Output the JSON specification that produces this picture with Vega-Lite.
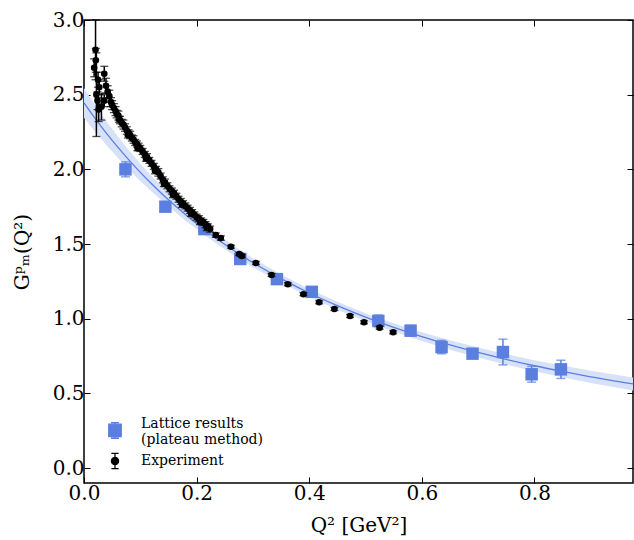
{
  "$schema": "https://vega.github.io/schema/vega-lite/v6.json",
  "width": 549,
  "height": 463,
  "autosize": "none",
  "padding": {"left": 84, "top": 20, "right": 1, "bottom": 57},
  "background": "white",
  "params": [
    {"name": "pathE", "value": "M-0.45,0A0.45,0.45 0 1,0 0.45,0A0.45,0.45 0 1,0 -0.45,0Z M0,-0.95L0,0.95 M-0.45,-0.95L0.45,-0.95 M-0.45,0.95L0.45,0.95"},
    {"name": "pathL", "value": "M-0.78,0.02L0.78,0.02L0.78,1.58L-0.78,1.58Z M-0.5,-0.18L0.5,-0.18 M-0.5,1.78L0.5,1.78 M0,-0.18L0,1.78"}
  ],
  "config": {
    "view": {"stroke": "#000", "strokeWidth": 1.5},
    "font": "DejaVu Serif",
    "axis": {
      "grid": false, "domain": false, "tickColor": "#000", "tickSize": -6, "tickWidth": 1,
      "labelColor": "#000", "labelFont": "DejaVu Serif", "labelFontSize": 20, "labelFlush": false,
      "titleFont": "DejaVu Serif", "titleFontSize": 20, "titleFontWeight": "normal", "titleColor": "#000",
      "labelPadding": 6
    },
    "legend": {
      "orient": "none", "legendX": 22, "legendY": 395, "padding": 0, "title": null,
      "labelFont": "DejaVu Serif", "labelFontSize": 14, "labelColor": "#000",
      "symbolSize": 256, "labelOffset": 17, "rowPadding": 3, "symbolStrokeWidth": 1.3
    }
  },
  "datasets": {
    "fit": [
      {"q": 0.0, "g": 2.445, "lo": 2.345, "hi": 2.545},
      {"q": 0.02, "g": 2.340, "lo": 2.250, "hi": 2.430},
      {"q": 0.04, "g": 2.241, "lo": 2.161, "hi": 2.321},
      {"q": 0.06, "g": 2.149, "lo": 2.077, "hi": 2.221},
      {"q": 0.08, "g": 2.062, "lo": 1.997, "hi": 2.127},
      {"q": 0.10, "g": 1.980, "lo": 1.922, "hi": 2.038},
      {"q": 0.12, "g": 1.904, "lo": 1.852, "hi": 1.956},
      {"q": 0.15, "g": 1.796, "lo": 1.751, "hi": 1.841},
      {"q": 0.18, "g": 1.698, "lo": 1.658, "hi": 1.738},
      {"q": 0.21, "g": 1.607, "lo": 1.571, "hi": 1.643},
      {"q": 0.24, "g": 1.524, "lo": 1.491, "hi": 1.557},
      {"q": 0.27, "g": 1.447, "lo": 1.416, "hi": 1.478},
      {"q": 0.30, "g": 1.375, "lo": 1.345, "hi": 1.405},
      {"q": 0.35, "g": 1.268, "lo": 1.240, "hi": 1.296},
      {"q": 0.40, "g": 1.172, "lo": 1.145, "hi": 1.199},
      {"q": 0.45, "g": 1.087, "lo": 1.060, "hi": 1.114},
      {"q": 0.50, "g": 1.010, "lo": 0.983, "hi": 1.037},
      {"q": 0.55, "g": 0.942, "lo": 0.914, "hi": 0.970},
      {"q": 0.60, "g": 0.880, "lo": 0.851, "hi": 0.909},
      {"q": 0.65, "g": 0.824, "lo": 0.793, "hi": 0.855},
      {"q": 0.70, "g": 0.774, "lo": 0.741, "hi": 0.807},
      {"q": 0.75, "g": 0.727, "lo": 0.692, "hi": 0.762},
      {"q": 0.80, "g": 0.685, "lo": 0.648, "hi": 0.722},
      {"q": 0.85, "g": 0.647, "lo": 0.608, "hi": 0.686},
      {"q": 0.90, "g": 0.611, "lo": 0.570, "hi": 0.652},
      {"q": 0.95, "g": 0.579, "lo": 0.536, "hi": 0.622},
      {"q": 0.975, "g": 0.563, "lo": 0.519, "hi": 0.607}
    ],
    "lattice": [
      {"q": 0.0736, "g": 2.00, "e": 0.05},
      {"q": 0.1445, "g": 1.75, "e": 0.03},
      {"q": 0.2137, "g": 1.60, "e": 0.025},
      {"q": 0.2775, "g": 1.40, "e": 0.025},
      {"q": 0.3426, "g": 1.265, "e": 0.02},
      {"q": 0.4046, "g": 1.18, "e": 0.02},
      {"q": 0.5227, "g": 0.985, "e": 0.04},
      {"q": 0.580, "g": 0.92, "e": 0.035},
      {"q": 0.635, "g": 0.81, "e": 0.045},
      {"q": 0.690, "g": 0.766, "e": 0.02},
      {"q": 0.744, "g": 0.777, "e": 0.086},
      {"q": 0.795, "g": 0.628, "e": 0.053},
      {"q": 0.847, "g": 0.661, "e": 0.061}
    ],
    "exp": [
      {"q": 0.0205, "g": 2.80, "e": 0.20},
      {"q": 0.021, "g": 2.73, "e": 0.08},
      {"q": 0.018, "g": 2.68, "e": 0.06},
      {"q": 0.022, "g": 2.50, "e": 0.28},
      {"q": 0.025, "g": 2.60, "e": 0.05},
      {"q": 0.027, "g": 2.55, "e": 0.05},
      {"q": 0.024, "g": 2.46, "e": 0.06},
      {"q": 0.026, "g": 2.40, "e": 0.08},
      {"q": 0.031, "g": 2.42, "e": 0.09},
      {"q": 0.036, "g": 2.64, "e": 0.05},
      {"q": 0.039, "g": 2.56, "e": 0.05},
      {"q": 0.042, "g": 2.52, "e": 0.04},
      {"q": 0.036, "g": 2.46, "e": 0.04},
      {"q": 0.045, "g": 2.49, "e": 0.04},
      {"q": 0.048, "g": 2.45, "e": 0.03},
      {"q": 0.050, "g": 2.43, "e": 0.03},
      {"q": 0.053, "g": 2.41, "e": 0.03},
      {"q": 0.056, "g": 2.39, "e": 0.03},
      {"q": 0.058, "g": 2.37, "e": 0.025},
      {"q": 0.061, "g": 2.36, "e": 0.03},
      {"q": 0.064, "g": 2.33, "e": 0.025},
      {"q": 0.067, "g": 2.31, "e": 0.025},
      {"q": 0.070, "g": 2.30, "e": 0.03},
      {"q": 0.073, "g": 2.28, "e": 0.025},
      {"q": 0.076, "g": 2.26, "e": 0.025},
      {"q": 0.079, "g": 2.245, "e": 0.02},
      {"q": 0.082, "g": 2.23, "e": 0.025},
      {"q": 0.085, "g": 2.21, "e": 0.02},
      {"q": 0.088, "g": 2.20, "e": 0.025},
      {"q": 0.091, "g": 2.18, "e": 0.02},
      {"q": 0.094, "g": 2.17, "e": 0.02},
      {"q": 0.097, "g": 2.15, "e": 0.025},
      {"q": 0.100, "g": 2.14, "e": 0.02},
      {"q": 0.104, "g": 2.12, "e": 0.02},
      {"q": 0.108, "g": 2.10, "e": 0.02},
      {"q": 0.112, "g": 2.08, "e": 0.025},
      {"q": 0.116, "g": 2.06, "e": 0.02},
      {"q": 0.120, "g": 2.04, "e": 0.02},
      {"q": 0.124, "g": 2.02, "e": 0.02},
      {"q": 0.128, "g": 2.00, "e": 0.02},
      {"q": 0.132, "g": 1.98, "e": 0.025},
      {"q": 0.136, "g": 1.955, "e": 0.02},
      {"q": 0.140, "g": 1.93, "e": 0.02},
      {"q": 0.144, "g": 1.91, "e": 0.025},
      {"q": 0.148, "g": 1.89, "e": 0.02},
      {"q": 0.152, "g": 1.87, "e": 0.02},
      {"q": 0.156, "g": 1.855, "e": 0.02},
      {"q": 0.160, "g": 1.84, "e": 0.02},
      {"q": 0.164, "g": 1.82, "e": 0.02},
      {"q": 0.168, "g": 1.80, "e": 0.02},
      {"q": 0.172, "g": 1.785, "e": 0.02},
      {"q": 0.176, "g": 1.77, "e": 0.02},
      {"q": 0.180, "g": 1.755, "e": 0.02},
      {"q": 0.184, "g": 1.74, "e": 0.02},
      {"q": 0.188, "g": 1.725, "e": 0.02},
      {"q": 0.192, "g": 1.71, "e": 0.02},
      {"q": 0.196, "g": 1.695, "e": 0.02},
      {"q": 0.200, "g": 1.68, "e": 0.02},
      {"q": 0.204, "g": 1.67, "e": 0.02},
      {"q": 0.208, "g": 1.655, "e": 0.02},
      {"q": 0.212, "g": 1.645, "e": 0.02},
      {"q": 0.216, "g": 1.63, "e": 0.02},
      {"q": 0.220, "g": 1.615, "e": 0.02},
      {"q": 0.224, "g": 1.60, "e": 0.02},
      {"q": 0.062, "g": 2.335, "e": 0.02},
      {"q": 0.078, "g": 2.23, "e": 0.02},
      {"q": 0.095, "g": 2.145, "e": 0.02},
      {"q": 0.110, "g": 2.075, "e": 0.02},
      {"q": 0.126, "g": 1.99, "e": 0.02},
      {"q": 0.142, "g": 1.905, "e": 0.02},
      {"q": 0.158, "g": 1.83, "e": 0.02},
      {"q": 0.174, "g": 1.765, "e": 0.02},
      {"q": 0.190, "g": 1.705, "e": 0.02},
      {"q": 0.206, "g": 1.65, "e": 0.02},
      {"q": 0.218, "g": 1.61, "e": 0.02},
      {"q": 0.234, "g": 1.56, "e": 0.015},
      {"q": 0.243, "g": 1.54, "e": 0.015},
      {"q": 0.261, "g": 1.482, "e": 0.01},
      {"q": 0.2757, "g": 1.433, "e": 0.01},
      {"q": 0.2805, "g": 1.420, "e": 0.01},
      {"q": 0.3053, "g": 1.373, "e": 0.01},
      {"q": 0.333, "g": 1.293, "e": 0.01},
      {"q": 0.362, "g": 1.231, "e": 0.01},
      {"q": 0.3897, "g": 1.164, "e": 0.01},
      {"q": 0.4176, "g": 1.110, "e": 0.01},
      {"q": 0.4447, "g": 1.065, "e": 0.01},
      {"q": 0.4725, "g": 1.018, "e": 0.01},
      {"q": 0.4973, "g": 0.976, "e": 0.01},
      {"q": 0.525, "g": 0.940, "e": 0.01},
      {"q": 0.549, "g": 0.909, "e": 0.01}
    ]
  },
  "layer": [
    {
      "data": {"name": "fit"},
      "mark": {"type": "area", "color": "#d7e1f8", "opacity": 1},
      "encoding": {
        "x": {"field": "q", "type": "quantitative", "scale": {"domain": [0, 0.975], "nice": false, "zero": false, "padding": 0},
              "axis": {"orient": "bottom", "values": [0, 0.2, 0.4, 0.6, 0.8], "format": ".1f", "title": "Q² [GeV²]", "titlePadding": 12}},
        "y": {"field": "lo", "type": "quantitative", "scale": {"domain": [-0.1, 3.0], "nice": false, "zero": false, "padding": 0},
              "axis": {"orient": "left", "values": [0, 0.5, 1, 1.5, 2, 2.5, 3], "format": ".1f", "title": "Gᵖₘ(Q²)", "titlePadding": 20}},
        "y2": {"field": "hi"}
      }
    },
    {
      "data": {"name": "fit"},
      "mark": {"type": "line", "color": "#5b7fde", "strokeWidth": 1.3, "interpolate": "monotone"},
      "encoding": {
        "x": {"field": "q", "type": "quantitative", "axis": {"orient": "top", "values": [0, 0.2, 0.4, 0.6, 0.8], "labels": false, "title": null}},
        "y": {"field": "g", "type": "quantitative", "axis": {"orient": "right", "values": [0, 0.5, 1, 1.5, 2, 2.5, 3], "labels": false, "title": null}}
      }
    },
    {
      "data": {"name": "lattice"},
      "mark": {"type": "errorbar", "color": "#5b7fde", "ticks": {"size": 9, "thickness": 1.5}, "rule": {"strokeWidth": 1.5}},
      "encoding": {
        "x": {"field": "q", "type": "quantitative", "axis": null},
        "y": {"field": "g", "type": "quantitative", "axis": null},
        "yError": {"field": "e"}
      }
    },
    {
      "data": {"name": "lattice"},
      "mark": {"type": "square", "size": 155, "opacity": 1, "filled": true},
      "encoding": {
        "x": {"field": "q", "type": "quantitative", "axis": null},
        "y": {"field": "g", "type": "quantitative", "axis": null},
        "color": {
          "datum": "Lattice",
          "scale": {"domain": ["Lattice", "Experiment"], "range": ["#5b7fde", "#000000"]},
          "legend": {
            "labelExpr": "datum.label == 'Lattice' ? ['Lattice results', '(plateau method)'] : datum.label",
            "symbolType": {"expr": "datum.value == 'Experiment' ? pathE : pathL"},
            "symbolStrokeColor": {"expr": "datum.value == 'Experiment' ? '#000000' : '#5b7fde'"},
            "encode": {
              "symbols": {
                "shape": {"value": {"expr": "datum.value == 'Experiment' ? pathE : pathL"}},
                "stroke": {"value": {"expr": "datum.value == 'Experiment' ? '#000000' : '#5b7fde'"}}
              }
            }
          }
        }
      }
    },
    {
      "data": {"name": "exp"},
      "mark": {"type": "errorbar", "color": "#000", "ticks": {"size": 8, "thickness": 1.3}, "rule": {"strokeWidth": 1.5}},
      "encoding": {
        "x": {"field": "q", "type": "quantitative", "axis": null},
        "y": {"field": "g", "type": "quantitative", "axis": null},
        "yError": {"field": "e"}
      }
    },
    {
      "data": {"name": "exp"},
      "mark": {"type": "circle", "size": 44, "opacity": 1},
      "encoding": {
        "x": {"field": "q", "type": "quantitative", "axis": null},
        "y": {"field": "g", "type": "quantitative", "axis": null},
        "color": {
          "datum": "Experiment",
          "legend": {
            "labelExpr": "datum.label == 'Lattice' ? ['Lattice results', '(plateau method)'] : datum.label",
            "symbolType": {"expr": "datum.value == 'Experiment' ? pathE : pathL"},
            "symbolStrokeColor": {"expr": "datum.value == 'Experiment' ? '#000000' : '#5b7fde'"},
            "encode": {
              "symbols": {
                "shape": {"value": {"expr": "datum.value == 'Experiment' ? pathE : pathL"}},
                "stroke": {"value": {"expr": "datum.value == 'Experiment' ? '#000000' : '#5b7fde'"}}
              }
            }
          }
        }
      }
    }
  ],
  "resolve": {"axis": {"x": "independent", "y": "independent"}}
}
